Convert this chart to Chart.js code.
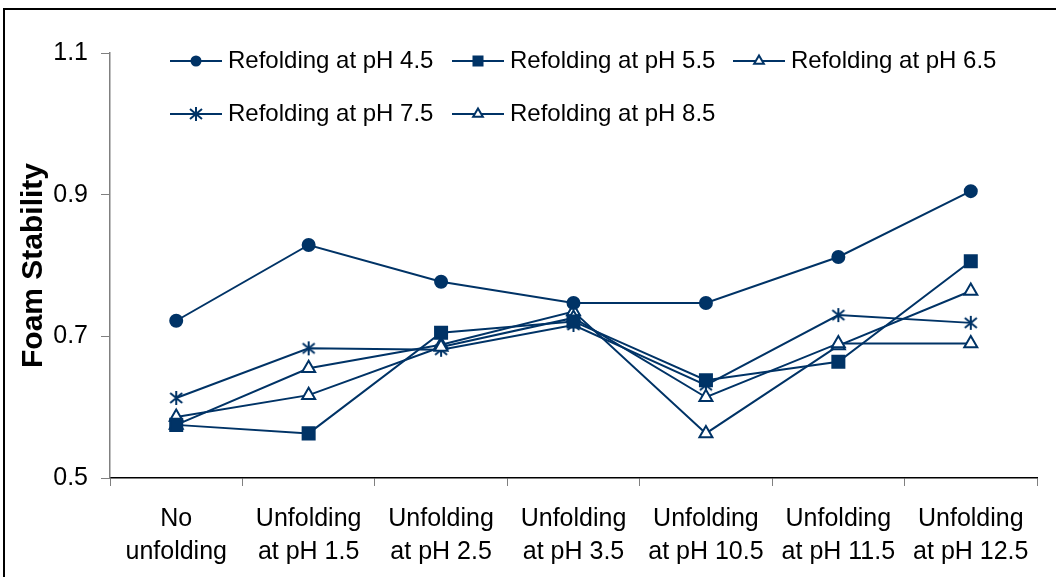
<!DOCTYPE html>
<html>
<head>
<meta charset="utf-8">
<script src="https://cdn.jsdelivr.net/npm/chart.js@4/dist/chart.umd.min.js"></script>
<style>
  html, body { margin: 0; padding: 0; background: #fff; overflow: hidden; }
  #frame { position: absolute; left: 3px; top: 8px; width: 1100px; height: 700px; border: 2px solid #000; }
  #wrap { position: absolute; left: 0; top: 0; width: 1056px; height: 577px; }
</style>
</head>
<body>
<div id="frame"></div>
<div id="wrap"><canvas id="chart"></canvas></div>
<script>
/* Foam stability vs. unfolding / refolding pH */
const FONT = "'Liberation Sans', Arial, sans-serif";
const NAVY = '#003366';

const categories = [
  ['No', 'unfolding'], ['Unfolding', 'at pH 1.5'], ['Unfolding', 'at pH 2.5'], ['Unfolding', 'at pH 3.5'],
  ['Unfolding', 'at pH 10.5'], ['Unfolding', 'at pH 11.5'], ['Unfolding', 'at pH 12.5'],
];
const seriesNames = ['Refolding at pH 4.5', 'Refolding at pH 5.5', 'Refolding at pH 6.5', 'Refolding at pH 7.5', 'Refolding at pH 8.5'];
const refold45 = [0.722, 0.829, 0.777, 0.747, 0.747, 0.812, 0.905];
const refold55 = [0.575, 0.563, 0.705, 0.721, 0.638, 0.664, 0.806];
const refold65 = [0.586, 0.617, 0.685, 0.726, 0.614, 0.690, 0.690];
const refold75 = [0.613, 0.683, 0.681, 0.716, 0.631, 0.730, 0.719];
const refold85 = [0.575, 0.655, 0.688, 0.735, 0.563, 0.687, 0.764];
const yTicks = [0.5, 0.7, 0.9, 1.1];

// excel-like asterisk marker (vertical bar + X)
function asterisk() {
  const c = document.createElement('canvas');
  c.width = 16; c.height = 16;
  const g = c.getContext('2d');
  g.strokeStyle = NAVY; g.lineWidth = 2;
  g.beginPath();
  g.moveTo(8, 1); g.lineTo(8, 15);
  g.moveTo(2, 3); g.lineTo(14, 13);
  g.moveTo(2, 13); g.lineTo(14, 3);
  g.stroke();
  return c;
}

const markers = [
  { pointStyle: 'circle', pointRadius: 6, pointBackgroundColor: NAVY },
  { pointStyle: 'rect', pointRadius: 8.5, pointBackgroundColor: NAVY },
  { pointStyle: 'triangle', pointRadius: 7.5, pointBackgroundColor: '#fff' },
  { pointStyle: asterisk(), pointRadius: 8, pointBackgroundColor: NAVY },
  { pointStyle: 'triangle', pointRadius: 7.5, pointBackgroundColor: '#fff' },
];
const values = [refold45, refold55, refold65, refold75, refold85];

// legend drawn inside the plot area, 3 columns x 2 rows
const insideLegend = {
  id: 'insideLegend',
  afterDraw(chart) {
    const ctx = chart.ctx;
    const cols = [170, 452, 733], rows = [61, 114];
    chart.data.datasets.forEach((ds, i) => {
      const x = cols[i % 3], y = rows[Math.floor(i / 3)];
      ctx.save();
      ctx.strokeStyle = NAVY; ctx.lineWidth = 2;
      ctx.beginPath(); ctx.moveTo(x, y); ctx.lineTo(x + 52, y); ctx.stroke();
      ctx.fillStyle = ds.pointBackgroundColor; ctx.strokeStyle = NAVY; ctx.lineWidth = 2;
      Chart.helpers.drawPoint(ctx, { pointStyle: ds.pointStyle, radius: ds.pointRadius * 0.75, rotation: 0, borderWidth: 2 }, x + 26, y);
      ctx.fillStyle = '#000';
      ctx.font = '24px ' + FONT;
      ctx.textBaseline = 'middle'; ctx.textAlign = 'left';
      ctx.fillText(ds.label, x + 58, y);
      ctx.restore();
    });
  },
};

new Chart(document.getElementById('chart'), {
  type: 'line',
  data: {
    labels: categories,
    datasets: seriesNames.map((name, i) => ({
      label: name, data: values[i],
      borderColor: NAVY, borderWidth: 2, tension: 0, fill: false,
      pointBorderColor: NAVY, pointBorderWidth: 2, pointHoverRadius: markers[i].pointRadius,
      ...markers[i],
    })),
  },
  options: {
    responsive: true, maintainAspectRatio: false, animation: false,
    layout: { padding: { left: 0, top: 53, right: 19, bottom: 0 } },
    plugins: { legend: { display: false }, tooltip: { enabled: false } },
    scales: {
      x: {
        offset: true,
        grid: { offset: true, drawOnChartArea: false, drawTicks: true, tickLength: 8, color: '#808080' },
        border: { color: '#000', width: 1.5 },
        ticks: { color: '#000', font: { family: FONT, size: 25, lineHeight: 1.3 }, padding: 17, maxRotation: 0, autoSkip: false },
        afterFit(scale) { scale.height = 99; },
      },
      y: {
        min: 0.5, max: 1.1,
        afterBuildTicks(scale) { scale.ticks = yTicks.map((v) => ({ value: v })); },
        grid: { drawOnChartArea: false, drawTicks: true, tickLength: 9, color: '#808080' },
        border: { color: '#808080', width: 1.5 },
        ticks: { color: '#000', font: { family: FONT, size: 25 }, padding: 13, callback: (v) => Number(v).toFixed(1) },
        title: { display: true, text: 'Foam Stability', color: '#000', font: { family: FONT, size: 30, weight: 'bold' }, padding: { top: 16, bottom: 0 } },
        afterFit(scale) { scale.width = 110; },
      },
    },
  },
  plugins: [insideLegend],
});
</script>
</body>
</html>
